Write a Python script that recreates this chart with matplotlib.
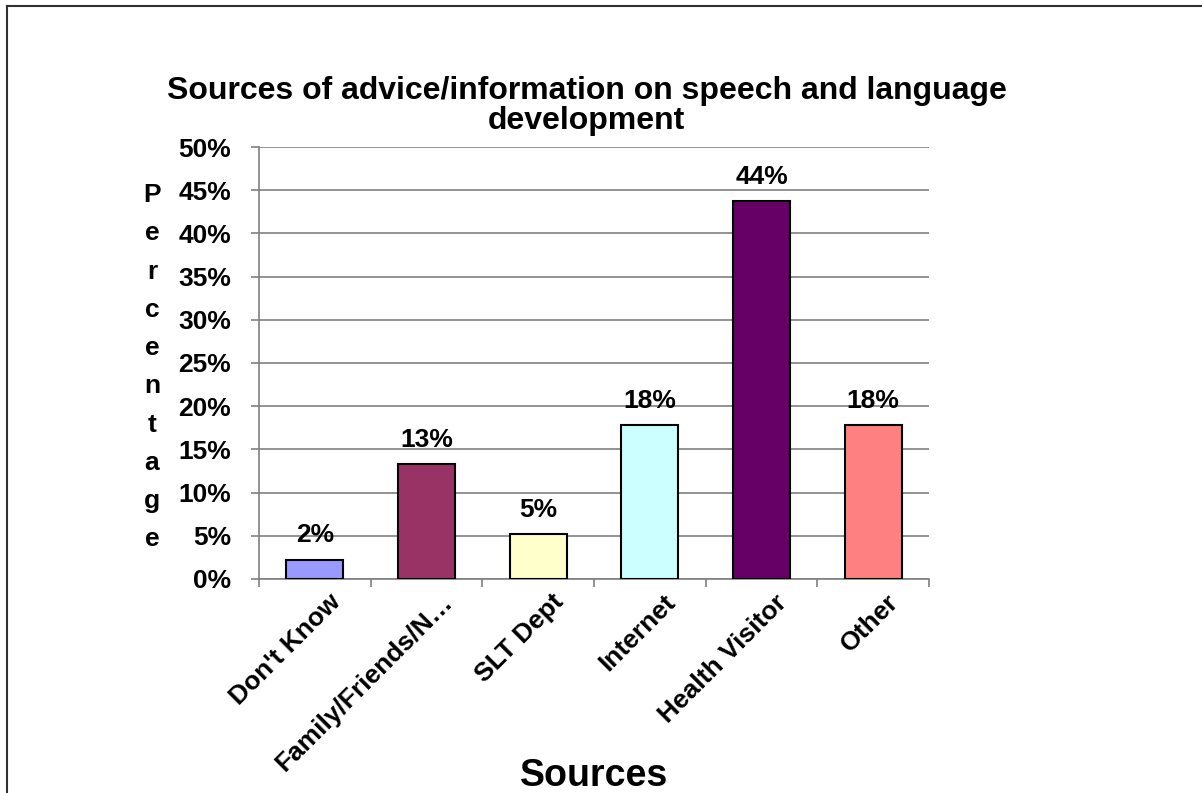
import numpy as np
import matplotlib.pyplot as plt
from matplotlib.lines import Line2D

plt.rcParams['font.family'] = ['Liberation Sans', 'DejaVu Sans']

# survey answers, share of respondents (%)
sources = ["Don't Know", "Family/Friends/N\u2026", "SLT Dept", "Internet", "Health Visitor", "Other"]
share = [2.2, 13.3, 5.2, 17.8, 43.7, 17.8]
colours = ['#9999FF', '#993366', '#FFFFCC', '#CCFFFF', '#660066', '#FF8080']

fig = plt.figure(figsize=(12.02, 7.93), dpi=100)
ax = fig.add_axes([0.2155, 0.2699, 0.5574, 0.5447])

x = np.arange(len(sources))
bars = ax.bar(x, share, width=0.51, color=colours, edgecolor='black', linewidth=1.5, zorder=3)

for b, v in zip(bars, share):
    ax.annotate('%d%%' % round(v), (b.get_x() + b.get_width() / 2, v),
                xytext=(0, 9), textcoords='offset points', ha='center', va='bottom',
                fontsize=19, fontweight='bold')

ax.set_xlim(-0.5, len(sources) - 0.5)
ax.set_ylim(0, 50)
ax.set_yticks(np.arange(0, 51, 5))
ax.set_yticklabels(['%d%%' % t for t in range(0, 51, 5)], fontsize=19, fontweight='bold')
ax.yaxis.grid(True, color='#808080', linewidth=1.2, zorder=0)

ax.set_xticks(x + 0.12)
ax.set_xticklabels(sources, rotation=45, ha='right', rotation_mode='anchor',
                   fontsize=19, fontweight='bold')
ax.tick_params(axis='x', length=0, pad=8)
ax.set_xticks(np.arange(-0.5, len(sources)), minor=True)
ax.tick_params(axis='x', which='minor', length=6, color='#808080', width=1.2)
ax.tick_params(axis='y', length=6, color='#808080', width=1.2, pad=14)

for s in ['top', 'right']:
    ax.spines[s].set_visible(False)
for s in ['left', 'bottom']:
    ax.spines[s].set_color('#808080')
    ax.spines[s].set_linewidth(1.2)

fig.text(0.488, 0.8665, 'Sources of advice/information on speech and language\ndevelopment',
         ha='center', va='center', fontsize=23, fontweight='bold', linespacing=0.97)
fig.text(0.1265, 0.537, '\n'.join('Percentage'), ha='center', va='center',
         fontsize=19, fontweight='bold', linespacing=1.75)
fig.text(0.494, 0.022, 'Sources', ha='center', va='center', fontsize=27, fontweight='bold')

# frame around the chart
fig.add_artist(Line2D([0.006, 0.006], [0, 0.9925], color='#303030', linewidth=1.5))
fig.add_artist(Line2D([0.006, 1], [0.9925, 0.9925], color='#303030', linewidth=1.5))

fig.savefig('out.png', dpi=100)
